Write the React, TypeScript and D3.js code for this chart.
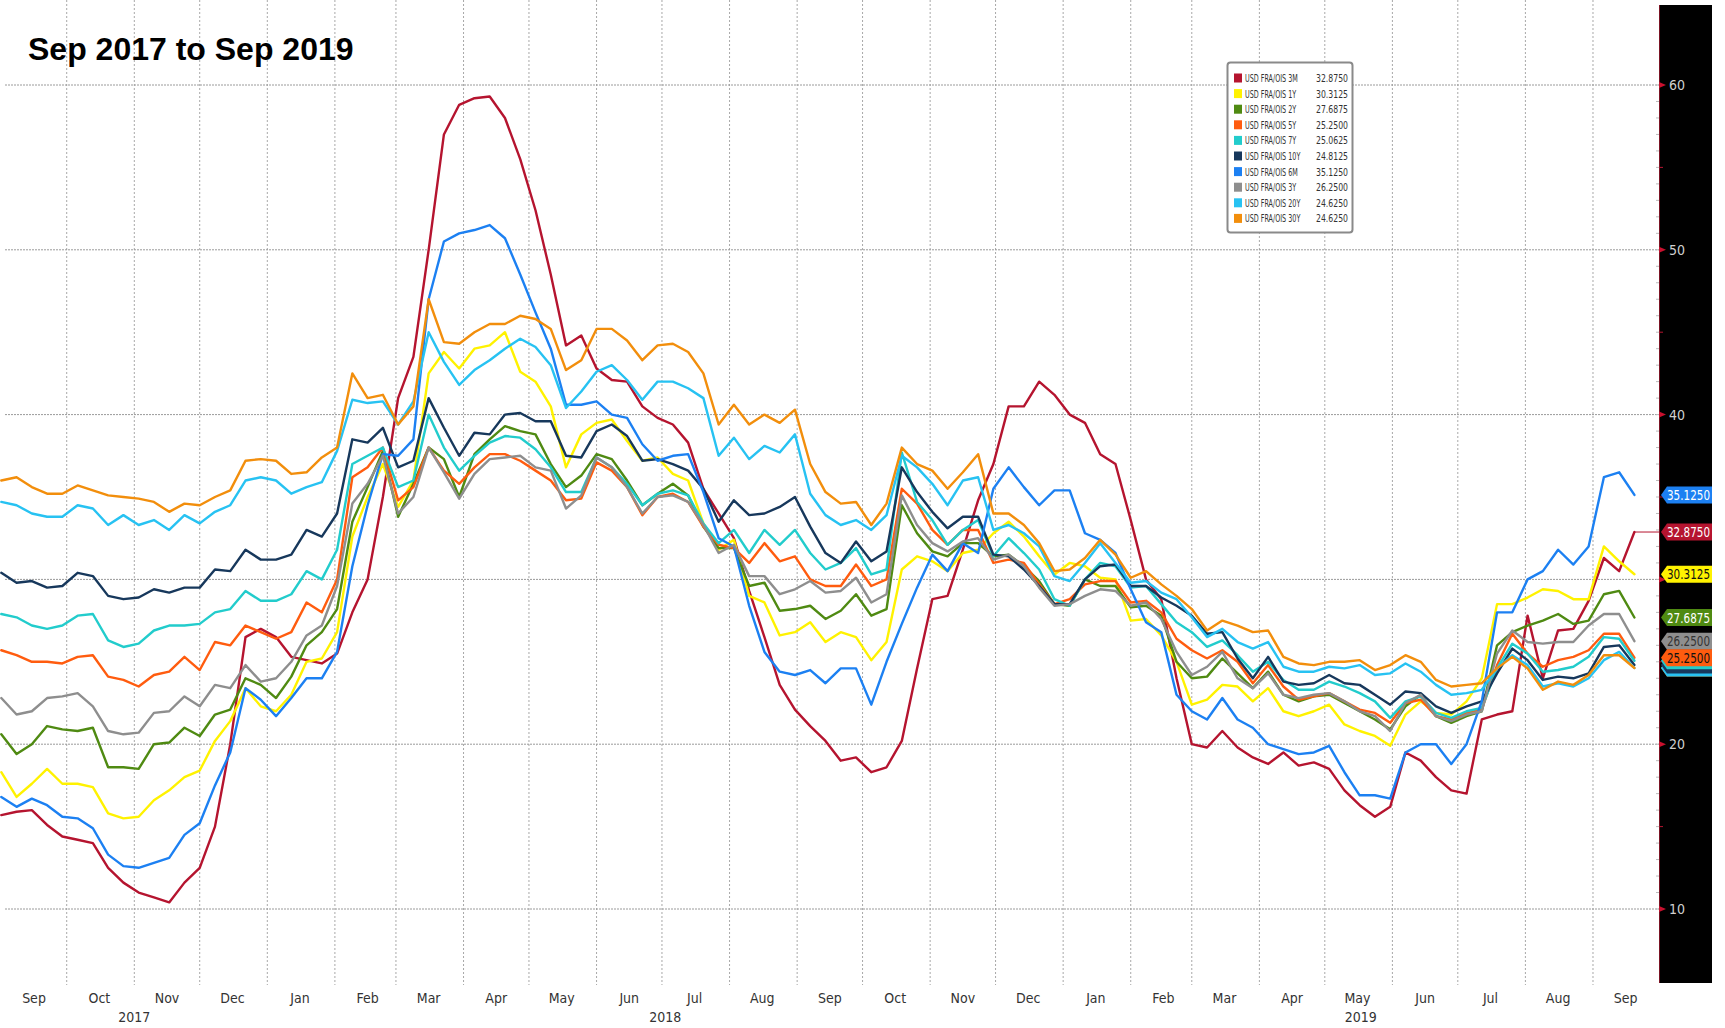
import React from 'react';
import * as d3 from 'd3';

// weekly readings (Fridays) from Sep 1 2017 to Sep 20 2019
const s3M = [15.7, 15.9, 16.0, 15.1, 14.4, 14.2, 14.0, 12.5, 11.6, 11.0, 10.7, 10.4, 11.6, 12.5, 15.0, 20.0, 26.5, 27.0, 26.5, 25.3, 25.1, 24.9,
  25.5, 28.0, 30.0, 35.0, 41.0, 43.5, 50.0, 57.0, 58.8, 59.2, 59.3, 58.0, 55.5, 52.4, 48.5, 44.2, 44.8, 42.8, 42.1, 42.0, 40.5, 39.8,
  39.4, 38.3, 35.5, 34.0, 32.5, 29.3, 26.5, 23.6, 22.1, 21.1, 20.2, 19.0, 19.2, 18.3, 18.6, 20.2, 24.6, 28.8, 29.0, 31.8, 34.8,
  37.0, 40.5, 40.5, 42.0, 41.2, 40.0, 39.5, 37.6, 37.0, 33.6, 30.0, 28.8, 24.0,
  20.0, 19.8, 20.8, 19.8, 19.2, 18.8, 19.5, 18.7, 18.9, 18.5, 17.2, 16.3, 15.6, 16.2, 19.5, 19.0, 18.0, 17.2, 17.0, 21.5, 21.8, 22.0, 27.8, 24.0, 26.9, 27.0, 28.7, 31.3, 30.5, 32.875];
const s1Y = [18.3, 16.8, 17.6, 18.5, 17.6, 17.6, 17.4, 15.8, 15.5, 15.6, 16.6, 17.2, 18.0, 18.4, 20.2, 21.4, 23.4, 22.3, 22.0, 23.0, 25.0, 25.2,
  26.8, 32.6, 35.0, 37.0, 34.4, 36.0, 42.5, 43.8, 42.8, 44.0, 44.2, 45.0, 42.6, 42.0, 40.5, 36.8, 38.8, 39.5, 39.7, 38.4, 37.2, 37.4,
  36.4, 36.0, 33.4, 31.8, 32.4, 29.0, 28.6, 26.6, 26.8, 27.4, 26.2, 26.8, 26.5, 25.1, 26.2, 30.6, 31.4, 31.1, 30.5, 31.6, 31.8,
  32.8, 33.5, 32.6, 31.4, 30.3, 31.0, 30.8, 30.1, 30.0, 27.5, 27.6, 26.6, 25.0, 22.4, 22.7, 23.6, 23.5, 22.6, 23.4, 22.0, 21.7, 22.0, 22.4, 21.2, 20.8, 20.5,
  19.9, 21.8, 22.6, 21.9, 21.8, 22.6, 24.0, 28.5, 28.5, 28.9, 29.4, 29.3, 28.8, 28.8, 32.0, 31.1, 30.3125];
const s2Y = [20.6, 19.4, 20.0, 21.1, 20.9, 20.8, 21.0, 18.6, 18.6, 18.5, 20.0, 20.1, 21.0, 20.5, 21.8, 22.1, 24.0, 23.6, 22.8, 24.1, 26.0, 26.8,
  28.2, 33.5, 35.6, 37.8, 33.8, 35.8, 38.0, 37.3, 35.0, 37.6, 38.5, 39.3, 39.0, 38.8, 37.0, 35.6, 36.3, 37.6, 37.3, 36.0, 34.5, 35.2,
  35.8, 35.1, 33.2, 31.9, 31.9, 29.6, 29.8, 28.1, 28.2, 28.4, 27.6, 28.1, 29.1, 27.8, 28.2, 34.5, 32.8, 31.7, 31.4, 32.2, 32.2,
  31.4, 31.5, 30.8, 29.9, 28.5, 28.4, 30.0, 29.6, 29.6, 28.3, 28.4, 27.8, 25.0, 24.0, 24.1, 25.2, 24.3, 23.4, 24.4, 23.0, 22.6, 22.9, 23.0, 22.5, 22.0, 21.5,
  20.9, 22.3, 23.0, 21.7, 21.3, 21.7, 22.0, 26.0, 26.8, 27.2, 27.5, 27.9, 27.3, 27.5, 29.1, 29.3, 27.6875];
const s5Y = [25.7, 25.4, 25.0, 25.0, 24.9, 25.3, 25.4, 24.1, 23.9, 23.5, 24.2, 24.4, 25.3, 24.5, 26.2, 26.0, 27.2, 26.8, 26.4, 26.8, 28.6, 28.0,
  30.0, 36.2, 36.8, 38.0, 34.8, 35.6, 38.0, 36.6, 35.8, 36.8, 37.6, 37.6, 37.2, 36.6, 36.0, 34.8, 34.9, 37.1, 36.6, 35.6, 33.9, 35.0,
  35.2, 34.7, 33.2, 32.1, 31.9, 31.0, 32.2, 31.1, 31.4, 30.0, 29.6, 29.6, 30.9, 29.6, 30.0, 35.5, 34.6, 33.0, 32.1, 33.0, 33.0,
  31.0, 31.2, 31.0, 29.7, 28.5, 28.8, 29.7, 29.9, 29.9, 28.6, 28.7, 28.0, 26.4, 25.7, 25.2, 25.7, 25.0, 23.7, 24.8, 23.5, 22.7, 22.9, 23.1, 22.6, 22.1, 21.9,
  21.3, 22.5, 22.7, 21.7, 21.5, 21.9, 22.1, 24.8, 26.7, 25.5, 24.7, 25.1, 25.3, 25.7, 26.7, 26.7, 25.25];
const s7Y = [27.9, 27.7, 27.2, 27.0, 27.2, 27.8, 27.9, 26.3, 25.9, 26.1, 26.9, 27.2, 27.2, 27.3, 28.0, 28.2, 29.3, 28.7, 28.7, 29.1, 30.5, 30.0,
  31.8, 37.0, 37.5, 38.0, 35.6, 36.0, 40.0, 38.0, 36.6, 37.5, 38.3, 38.7, 38.6, 37.9, 36.8, 35.3, 35.3, 37.4, 36.8, 35.8, 34.5, 35.2,
  35.4, 35.1, 33.4, 32.2, 33.0, 31.6, 33.0, 32.1, 33.0, 31.6, 30.6, 31.0, 31.9, 30.3, 30.6, 37.7, 34.7, 33.6, 32.1, 33.0, 33.6,
  31.4, 32.5, 31.6, 30.6, 28.8, 28.4, 30.0, 31.0, 30.8, 29.5, 29.6, 28.5, 27.4, 26.8, 25.9, 26.3, 25.4, 24.4, 25.0, 23.9, 23.3, 23.3, 23.8, 23.5, 23.1, 22.6,
  21.6, 22.6, 22.9, 21.9, 21.6, 22.0, 22.2, 24.6, 26.1, 25.5, 24.4, 24.5, 24.7, 25.3, 26.5, 26.4, 25.0625];
const s10Y = [30.4, 29.8, 29.9, 29.5, 29.6, 30.4, 30.2, 29.0, 28.8, 28.9, 29.4, 29.2, 29.5, 29.5, 30.6, 30.5, 31.8, 31.2, 31.2, 31.5, 33.0, 32.6,
  34.0, 38.5, 38.3, 39.2, 36.8, 37.2, 41.0, 39.2, 37.5, 38.9, 38.8, 40.0, 40.1, 39.6, 39.6, 37.5, 37.4, 39.0, 39.4, 38.7, 37.2, 37.3,
  37.0, 36.6, 35.5, 33.5, 34.8, 33.9, 34.0, 34.4, 35.0, 33.2, 31.6, 31.0, 32.3, 31.1, 31.7, 36.8, 35.3, 34.1, 33.1, 33.8, 33.8,
  31.5, 31.4, 30.6, 29.6, 28.5, 28.5, 30.0, 30.8, 30.9, 29.6, 29.6, 28.9, 28.4, 27.8, 26.7, 26.8, 25.2, 24.0, 25.3, 23.8, 23.6, 23.7, 24.2, 23.7, 23.6, 23.0,
  22.4, 23.2, 23.1, 22.3, 21.9, 22.3, 22.6, 24.3, 25.8, 25.1, 23.9, 24.1, 24.0, 24.3, 25.9, 26.0, 24.8125];
const s6M = [16.8, 16.2, 16.7, 16.3, 15.6, 15.5, 14.9, 13.3, 12.6, 12.5, 12.8, 13.1, 14.5, 15.2, 17.5, 19.5, 23.4, 22.7, 21.7, 22.8, 24.0, 24.0,
  25.6, 30.8, 34.5, 37.6, 37.5, 38.5, 47.0, 50.5, 51.0, 51.2, 51.5, 50.7, 48.5, 46.2, 44.0, 40.6, 40.6, 40.8, 40.0, 39.8, 38.2, 37.2,
  37.5, 37.6, 35.3, 32.5, 32.0, 28.4, 25.6, 24.4, 24.2, 24.5, 23.7, 24.6, 24.6, 22.4, 25.0, 27.3, 29.5, 31.5, 30.5, 32.2, 31.6,
  35.5, 36.8, 35.6, 34.5, 35.4, 35.4, 32.8, 32.4, 31.6, 29.4, 27.4, 26.8, 23.0, 22.0,
  21.5, 22.8, 21.5, 21.0, 20.0, 19.7, 19.4, 19.5, 19.9, 18.3, 16.9, 16.9, 16.7, 19.5, 20.0, 20.0, 18.8, 20.0, 22.6, 28.0, 28.0, 30.0, 30.5, 31.8, 30.9, 32.0, 36.2, 36.5, 35.125];
const s3Y = [22.8, 21.8, 22.0, 22.8, 22.9, 23.1, 22.3, 20.8, 20.6, 20.7, 21.9, 22.0, 22.9, 22.3, 23.6, 23.4, 24.8, 23.8, 24.0, 25.0, 26.6, 27.2,
  29.6, 34.6, 35.8, 37.5, 34.0, 35.0, 38.0, 36.5, 34.9, 36.4, 37.3, 37.4, 37.5, 36.8, 36.6, 34.3, 35.1, 37.4, 36.8, 35.6, 34.0, 35.0,
  35.1, 34.7, 33.3, 31.6, 32.1, 30.2, 30.2, 29.1, 29.4, 29.9, 29.2, 29.3, 30.1, 28.6, 29.1, 35.1, 33.3, 32.2, 31.7, 32.3, 32.5,
  31.2, 31.5, 30.8, 29.5, 28.4, 28.5, 29.0, 29.4, 29.3, 28.4, 28.6, 27.6, 25.6, 24.2, 24.7, 25.6, 24.0, 23.4, 24.3, 23.0, 22.8, 23.0, 23.1, 22.6, 22.0, 21.7,
  20.8, 22.5, 23.0, 21.7, 21.4, 21.8, 22.0, 25.5, 26.9, 26.2, 26.1, 26.2, 26.2, 27.2, 27.9, 27.9, 26.25];
const s20Y = [34.7, 34.5, 34.0, 33.8, 33.8, 34.5, 34.3, 33.3, 33.9, 33.3, 33.6, 33.0, 33.9, 33.4, 34.1, 34.5, 36.0, 36.2, 36.0, 35.2, 35.6, 35.9,
  37.8, 40.9, 40.7, 40.8, 39.4, 40.8, 45.0, 43.2, 41.8, 42.7, 43.3, 44.0, 44.6, 44.1, 43.0, 40.4, 41.4, 42.6, 43.0, 42.1, 40.9, 42.0,
  42.0, 41.6, 41.0, 37.5, 38.6, 37.3, 38.1, 37.7, 38.8, 35.2, 33.9, 33.3, 33.6, 33.0, 33.9, 37.5, 36.8, 35.8, 34.5, 36.0, 36.2,
  33.0, 33.3, 32.8, 32.0, 30.2, 29.9, 31.0, 32.2, 31.0, 29.8, 29.9, 29.2, 28.8, 27.7, 26.5, 27.0, 26.2, 25.8, 26.2, 24.7, 24.4, 24.4, 24.7, 24.6, 24.8, 24.2,
  24.3, 24.9, 24.4, 23.6, 23.0, 23.1, 23.3, 24.6, 25.4, 24.8, 23.5, 23.7, 23.5, 24.0, 25.1, 25.6, 24.625];
const s30Y = [36.0, 36.2, 35.6, 35.2, 35.2, 35.7, 35.4, 35.1, 35.0, 34.9, 34.7, 34.1, 34.6, 34.5, 35.0, 35.4, 37.2, 37.3, 37.2, 36.4, 36.5, 37.4,
  38.0, 42.5, 41.0, 41.2, 39.4, 40.5, 47.0, 44.4, 44.3, 45.0, 45.5, 45.5, 46.0, 45.8, 45.2, 42.7, 43.3, 45.2, 45.2, 44.5, 43.3, 44.2,
  44.3, 43.8, 42.5, 39.4, 40.6, 39.4, 40.0, 39.5, 40.3, 37.0, 35.3, 34.6, 34.7, 33.3, 34.6, 38.0, 37.0, 36.6, 35.5, 36.5, 37.6,
  34.0, 34.0, 33.3, 32.2, 30.5, 30.6, 31.3, 32.4, 31.5, 30.1, 30.5, 29.7, 29.0, 28.2, 26.9, 27.5, 27.2, 26.8, 26.9, 25.3, 24.9, 24.8, 25.0, 25.0, 25.1, 24.5,
  24.8, 25.4, 25.0, 23.9, 23.5, 23.6, 23.7, 24.6, 25.3, 24.6, 23.3, 23.8, 23.6, 24.2, 25.4, 25.4, 24.625];

const names = ['USD FRA/OIS 3M', 'USD FRA/OIS 1Y', 'USD FRA/OIS 2Y', 'USD FRA/OIS 5Y', 'USD FRA/OIS 7Y',
  'USD FRA/OIS 10Y', 'USD FRA/OIS 6M', 'USD FRA/OIS 3Y', 'USD FRA/OIS 20Y', 'USD FRA/OIS 30Y'];
const lastLabels = ['32.8750', '30.3125', '27.6875', '25.2500', '25.0625', '24.8125', '35.1250', '26.2500', '24.6250', '24.6250'];
const colors = ['#b5142f', '#fff200', '#4f8a12', '#ff5c0f', '#22cccc', '#17385c', '#1c80f2', '#8e8e8e', '#27c2f2', '#f28e0c'];
const tagText = ['#fff', '#111', '#fff', '#111', '#fff', '#fff', '#fff', '#333', '#fff', '#fff'];
const yTicks = [10, 20, 30, 40, 50, 60];

const condensed = "'DejaVu Sans Condensed', 'Liberation Sans Narrow', 'DejaVu Sans', sans-serif";

export default function App() {
  const W = 1725, H = 1028;
  const plotRight = 1659;
  const start = new Date(2017, 8, 1);
  const all = [s3M, s1Y, s2Y, s5Y, s7Y, s10Y, s6M, s3Y, s20Y, s30Y];
  const dates = d3.range(s3M.length).map(i => d3.timeDay.offset(start, i * 7));

  const x = d3.scaleTime().domain([start, new Date(2019, 9, 1)]).range([1.3, 1658.4]);
  const y = d3.scaleLinear().domain([10, 60]).range([909, 85]);

  const line = d3.line<number>()
    .x((d, i) => x(dates[i]))
    .y(d => y(d));

  const months = d3.timeMonth.range(new Date(2017, 9, 1), new Date(2019, 9, 1));
  const monthLabels = d3.timeMonth.range(start, new Date(2019, 9, 1));
  const fmt = d3.timeFormat('%b');
  const years = [2017, 2018, 2019].map(yr => {
    const a = d3.max([start, new Date(yr, 0, 1)]) as Date;
    const b = d3.min([new Date(2019, 9, 1), new Date(yr + 1, 0, 1)]) as Date;
    return { yr, x: (x(a) + x(b)) / 2 };
  });

  const minor = d3.range(10, 61, 1);
  const lastX = x(dates[dates.length - 1]);

  // tag drawing order: the covered lower tags first, their text is hidden as in the source
  const tagOrder = [9, 8, 5, 4, 6, 0, 1, 2, 7, 3];
  const hiddenTags = [9, 8, 5, 4];

  return (
    <svg width={W} height={H} style={{ position: 'absolute', left: 0, top: 0, display: 'block', background: '#fff' }}>
      <defs>
        <clipPath id="plot"><rect x={0} y={0} width={plotRight} height={985} /></clipPath>
      </defs>
      {/* vertical month grid */}
      {months.map((m, i) => (
        <line key={'v' + i} x1={x(m)} x2={x(m)} y1={0} y2={985}
          stroke="#a8a8a8" strokeWidth={1} strokeDasharray="2,2" />
      ))}
      {yTicks.map(t => (
        <line key={'h' + t} x1={5} x2={plotRight} y1={y(t)} y2={y(t)}
          stroke="#9a9a9a" strokeWidth={1} strokeDasharray="2,1" />
      ))}

      <g clipPath="url(#plot)" fill="none" strokeWidth={2.4} strokeLinejoin="round" strokeLinecap="round">
        {all.map((s, i) => (
          <path key={names[i]} d={line(s) || ''} stroke={colors[i]} />
        ))}
      </g>
      <line x1={lastX} x2={plotRight + 2} y1={y(s3M[s3M.length - 1])} y2={y(s3M[s3M.length - 1])} stroke={colors[0]} strokeWidth={1} />

      <text x={28} y={60} fontFamily="'Liberation Sans', Arial, sans-serif" fontWeight="bold" fontSize={32} fill="#000">Sep 2017 to Sep 2019</text>

      {/* legend */}
      <g>
        <rect x={1227.5} y={62.5} width={125} height={170} rx={3} fill="#fff" stroke="#8a8a8a" strokeWidth={2} />
        {names.map((n, i) => {
          const cy = 78 + i * 15.6;
          return (
            <g key={'lg' + i}>
              <rect x={1234} y={cy - 4.5} width={8} height={9} fill={colors[i]} />
              <text transform={`translate(1245,${cy + 4}) scale(0.68,1)`} fontFamily={condensed} fontSize={10.5} fill="#333">{n}</text>
              <text transform={`translate(1348,${cy + 4}) scale(0.82,1)`} textAnchor="end" fontFamily={condensed} fontSize={10.5} fill="#333">{lastLabels[i]}</text>
            </g>
          );
        })}
      </g>

      {/* right axis panel */}
      <rect x={plotRight} y={5} width={53} height={978} fill="#000" />
      {minor.map(t => (
        <line key={'m' + t} x1={plotRight - 3} x2={plotRight} y1={y(t)} y2={y(t)} stroke="#bbb" strokeWidth={1} />
      ))}
      <line x1={plotRight + 0.5} x2={plotRight + 0.5} y1={5} y2={983} stroke="#7a1424" strokeWidth={1} />
      {d3.range(15, 60, 10).map(t => (
        <line key={'f' + t} x1={plotRight} x2={plotRight + 4} y1={y(t)} y2={y(t)} stroke="#b5142f" strokeWidth={1} />
      ))}
      {yTicks.map(t => (
        <g key={'yt' + t}>
          <path d={`M${plotRight},${y(t) - 3}L${plotRight + 7},${y(t)}L${plotRight},${y(t) + 3}Z`} fill="#c8102e" />
          {t !== 30 && (
            <text x={plotRight + 10} y={y(t) + 5} fontFamily={condensed} fontSize={14} fill="#cfcfcf">{t}</text>
          )}
        </g>
      ))}

      {/* last value tags */}
      {tagOrder.map(i => {
        const s = all[i];
        const ty = y(s[s.length - 1]);
        const x0 = plotRight + 2, x1 = 1712, h = 8.5;
        return (
          <g key={'tag' + i}>
            <path d={`M${x0},${ty}L${x0 + 6},${ty - h}L${x1},${ty - h}L${x1},${ty + h}L${x0 + 6},${ty + h}Z`} fill={colors[i]} />
            {!hiddenTags.includes(i) && (
              <text x={x0 + 6} y={ty + 5} fontFamily={condensed} fontSize={14} fill={tagText[i]}
                textLength={43} lengthAdjust="spacingAndGlyphs">{lastLabels[i]}</text>
            )}
          </g>
        );
      })}

      {/* x axis labels */}
      {monthLabels.map((m, i) => (
        <text key={'ml' + i} x={x(d3.timeDay.offset(m, 15))} y={1003} textAnchor="middle"
          fontFamily={condensed} fontSize={14} fill="#333">{fmt(m)}</text>
      ))}
      {years.map(d => (
        <text key={'yr' + d.yr} x={d.x} y={1022} textAnchor="middle"
          fontFamily={condensed} fontSize={14} fill="#333">{d.yr}</text>
      ))}
    </svg>
  );
}
